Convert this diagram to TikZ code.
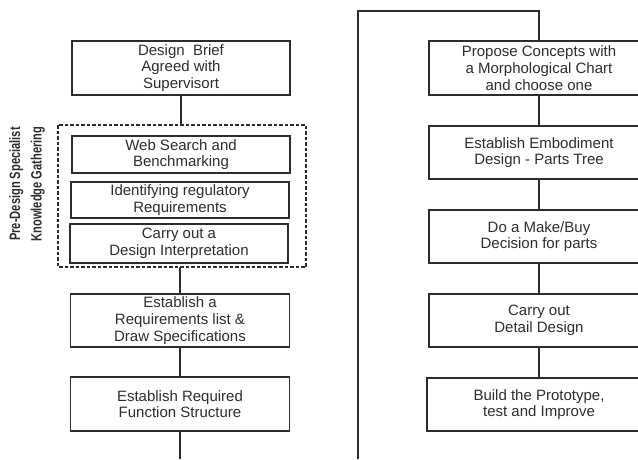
\documentclass[tikz,border=0pt]{standalone}
\usepackage{fontspec}
\setmainfont{Liberation Sans}
\newfontfamily\narrowbold[FakeStretch=0.74]{Liberation Sans Bold}
\usepackage{tikz}
\usepackage{xcolor}
\usetikzlibrary{positioning, calc}
\definecolor{inkgray}{RGB}{45, 45, 45}

\begin{document}
\begin{tikzpicture}[
    x=1pt, y=-1pt,
    stepbox/.style={draw=inkgray, line width=1.4pt, minimum width=218pt, minimum height=54pt, align=center, text=inkgray, inner sep=0pt, font=\fontsize{15}{16.7}\selectfont},
    innerbox/.style={stepbox, line width=2.1pt, minimum height=37pt},
    link/.style={draw=inkgray, line width=1.4pt}
]
\useasboundingbox (0,0) rectangle (638,459);
\clip (0,0) rectangle (638,459);

% Left column
\node[stepbox] (brief) at (181,68) {Design\ \ Brief\\Agreed with\\Supervisort};

\node[innerbox] (web) at (181,154.5) {Web Search and\\Benchmarking};
\node[innerbox, minimum height=36pt] (regs) at (180,200) {Identifying regulatory\\Requirements};
\node[innerbox, minimum height=39pt] (interp) at (179,243.5) {Carry out a\\Design Interpretation};
\draw[inkgray, line width=1.3pt, dash pattern=on 3.5pt off 2pt] (58,125) rectangle (306,267);
\coordinate (gtop) at (181,125);
\coordinate (gbot) at (180,267);

\node[font=\narrowbold\fontsize{15}{21.5}\selectfont, text=inkgray, align=center, rotate=90] (side) at (27,184) {Pre-Design Specialist\\Knowledge Gathering};

\node[stepbox, minimum width=219pt, minimum height=53pt] (reqs) at (180,320.5) {Establish a\\Requirements list \&\\Draw Specifications};
\node[stepbox, minimum width=219pt] (func) at (180,404) {Establish Required\\Function Structure};
\coordinate (leftend) at (180,459);

\draw[link] (brief.south) -- (gtop);
\draw[link] (gbot) -- (reqs.north);
\draw[link] (reqs) -- (func);
\draw[link] (func.south) -- (leftend);

% Right column
\node[stepbox, minimum width=220pt] (concepts) at (539,68) {Propose Concepts with\\a Morphological Chart\\and choose one};
\node[stepbox, minimum width=220pt, minimum height=53pt] (embody) at (539,152.5) {Establish Embodiment\\Design - Parts Tree};
\node[stepbox, minimum width=220pt, minimum height=53pt] (makebuy) at (539,236.5) {Do a Make/Buy\\Decision for parts};
\node[stepbox, minimum width=220pt, minimum height=53pt] (detail) at (539,320.5) {Carry out\\Detail Design};
\node[stepbox, minimum width=224pt, minimum height=53pt] (proto) at (539,404.5) {Build the Prototype,\\test and Improve};

\coordinate (loopstart) at (358,459);
\coordinate (loopturn) at (358,11);

\draw[link] (loopstart) -- (loopturn) -| (concepts.north);
\draw[link] (concepts) -- (embody);
\draw[link] (embody) -- (makebuy);
\draw[link] (makebuy) -- (detail);
\draw[link] (detail) -- (proto);

\end{tikzpicture}
\end{document}
